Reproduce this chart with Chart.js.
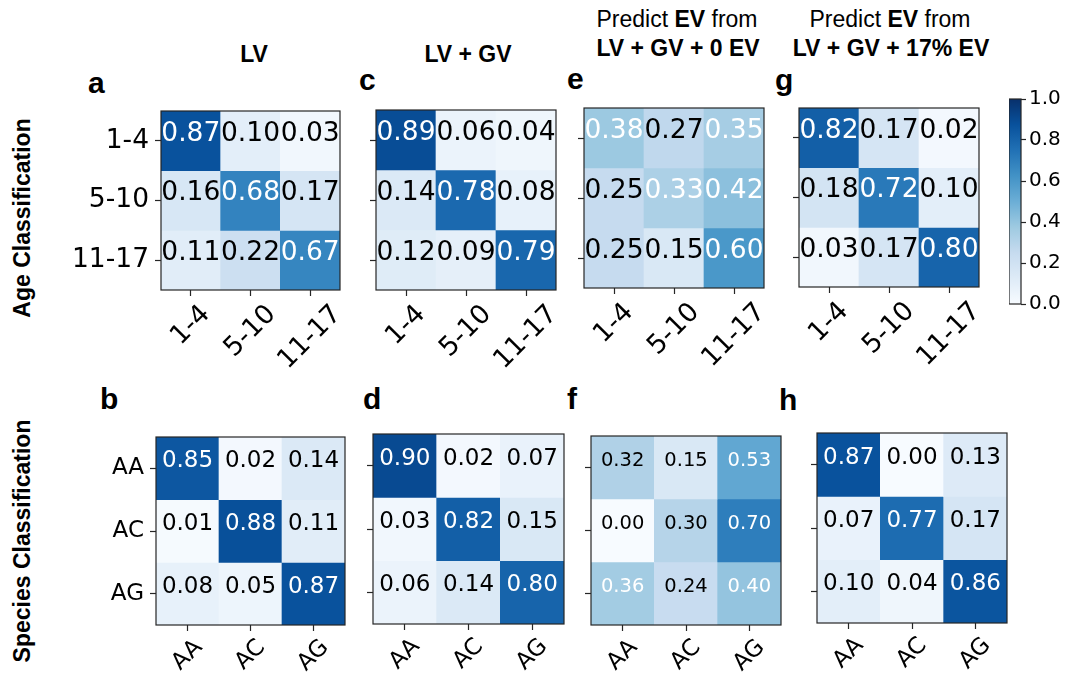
<!DOCTYPE html>
<html>
<head>
<meta charset="utf-8">
<script src="https://cdn.jsdelivr.net/npm/chart.js@4.4.1/dist/chart.umd.min.js"></script>
<style>
  body { margin: 0; background: #fff; width: 1066px; height: 675px; position: relative; overflow: hidden;
         font-family: 'Liberation Sans', Arial, Helvetica, sans-serif; color: #000; }
  canvas { position: absolute; }
  .title { position: absolute; font-size: 23px; line-height: 1; white-space: nowrap; transform: translateX(-50%); font-weight: bold; }
  .title .n { font-weight: normal; }
  .letter { position: absolute; font-size: 30px; line-height: 1; font-weight: bold; }
  .rowlab { position: absolute; font-size: 23px; line-height: 1; font-weight: bold; white-space: nowrap;
            transform: translate(-50%, -50%) rotate(-90deg); }
</style>
</head>
<body>

<div class="title" style="left:254px; top:43px;">LV</div>
<div class="title" style="left:468px; top:43px;">LV + GV</div>
<div class="title" style="left:677px; top:8px;"><span class="n">Predict </span>EV<span class="n"> from</span></div>
<div class="title" style="left:678px; top:37px;">LV + GV + 0 EV</div>
<div class="title" style="left:890px; top:8px;"><span class="n">Predict </span>EV<span class="n"> from</span></div>
<div class="title" style="left:891px; top:37px;">LV + GV + 17% EV</div>

<div class="letter" style="left:88px; top:68px;">a</div>
<div class="letter" style="left:359px; top:65px;">c</div>
<div class="letter" style="left:567px; top:64px;">e</div>
<div class="letter" style="left:775px; top:65px;">g</div>
<div class="letter" style="left:100px; top:384px;">b</div>
<div class="letter" style="left:363px; top:384px;">d</div>
<div class="letter" style="left:567px; top:384px;">f</div>
<div class="letter" style="left:779px; top:385px;">h</div>

<div class="rowlab" style="left:22px; top:218px;">Age Classification</div>
<div class="rowlab" style="left:22px; top:541px;">Species Classification</div>

<script>
// --- data ---
const ageLabels = ['1-4', '5-10', '11-17'];
const speciesLabels = ['AA', 'AC', 'AG'];

// rows = true class, columns = predicted class
const ageLV      = [[0.87, 0.10, 0.03], [0.16, 0.68, 0.17], [0.11, 0.22, 0.67]];
const ageLVGV    = [[0.89, 0.06, 0.04], [0.14, 0.78, 0.08], [0.12, 0.09, 0.79]];
const ageEV0     = [[0.38, 0.27, 0.35], [0.25, 0.33, 0.42], [0.25, 0.15, 0.60]];
const ageEV17    = [[0.82, 0.17, 0.02], [0.18, 0.72, 0.10], [0.03, 0.17, 0.80]];
const speciesLV   = [[0.85, 0.02, 0.14], [0.01, 0.88, 0.11], [0.08, 0.05, 0.87]];
const speciesLVGV = [[0.90, 0.02, 0.07], [0.03, 0.82, 0.15], [0.06, 0.14, 0.80]];
const speciesEV0  = [[0.32, 0.15, 0.53], [0.00, 0.30, 0.70], [0.36, 0.24, 0.40]];
const speciesEV17 = [[0.87, 0.00, 0.13], [0.07, 0.77, 0.17], [0.10, 0.04, 0.86]];

const colorbarTicks = [0, 0.2, 0.4, 0.6, 0.8, 1.0];

// --- matplotlib "Blues" ---
const BLUES = ['#f7fbff', '#deebf7', '#c6dbef', '#9ecae1', '#6baed6', '#4292c6', '#2171b5', '#08519c', '#08306b'];
function hexRgb(h) { return [1, 3, 5].map(i => parseInt(h.substr(i, 2), 16)); }
function blues(v) {
    const t = Math.max(0, Math.min(1, v)) * (BLUES.length - 1);
    const i = Math.min(Math.floor(t), BLUES.length - 2);
    const f = t - i;
    const a = hexRgb(BLUES[i]), b = hexRgb(BLUES[i + 1]);
    const c = a.map((x, k) => Math.round(x + (b[k] - x) * f));
    return 'rgb(' + c.join(',') + ')';
}

const FONT = 'DejaVu Sans';
const INK = '#000';

// frame round the plot area (matplotlib spines)
const framePlugin = {
    id: 'frame',
    afterDatasetsDraw(chart) {
        const a = chart.chartArea, ctx = chart.ctx;
        ctx.save();
        ctx.strokeStyle = '#262626';
        ctx.lineWidth = 1.2;
        ctx.strokeRect(a.left, a.top, a.right - a.left, a.bottom - a.top);
        ctx.restore();
    }
};

// numbers in the cells (sit a little above the cell centre, as in the original)
const cellTextPlugin = {
    id: 'cellText',
    afterDatasetsDraw(chart) {
        const ds = chart.data.datasets;
        if (!ds[0] || !ds[0].values) return;
        const ctx = chart.ctx;
        const size = chart.options.cellFontSize;
        const vmax = Math.max(...ds.flatMap(d => d.values));
        ctx.save();
        ctx.font = size + 'px "' + FONT + '"';
        ctx.textAlign = 'center';
        ctx.textBaseline = 'middle';
        ds.forEach((d, r) => {
            chart.getDatasetMeta(r).data.forEach((bar, c) => {
                const p = bar.getProps(['x', 'y', 'base'], true);
                const v = d.values[c];
                ctx.fillStyle = v > vmax / 2 ? '#fff' : INK;
                ctx.fillText(v.toFixed(2), p.x, (p.y + p.base) / 2 - 7);
            });
        });
        ctx.restore();
    }
};

// matplotlib style rotated x labels: centred under the tick
const centerTickPlugin = {
    id: 'centerTicks',
    beforeDraw(chart) {
        const sc = chart.scales.x;
        if (!sc || !sc.options.display) return;
        const items = sc.getLabelItems(chart.chartArea);
        const ctx = chart.ctx;
        const tl = sc.options.grid.tickLength, pad = sc.options.ticks.padding;
        items.forEach((it, i) => {
            ctx.save();
            ctx.font = it.font.string;
            const w = ctx.measureText(it.label).width;
            ctx.restore();
            const h = it.font.size * 1.1;
            const d = (w + h) * Math.SQRT1_2 / 2;
            it.options.translation = [sc.getPixelForTick(i), sc.top + tl + pad + d];
            it.options.textAlign = 'center';
            it.options.textBaseline = 'middle';
            it.textOffset = 0;
        });
    }
};

function noPad(s) { s.paddingLeft = 0; s.paddingRight = 0; s.paddingTop = 0; s.paddingBottom = 0; }

function heatmap(box, matrix, labels, o) {
    const [L, T, R, B] = box;
    const padL = 110, padT = 4, padR = 4, padB = 95;
    const cv = document.createElement('canvas');
    cv.width = (R - L) + padL + padR;
    cv.height = (B - T) + padT + padB;
    cv.style.left = (L - padL) + 'px';
    cv.style.top = (T - padT) + 'px';
    document.body.appendChild(cv);

    const datasets = matrix.map(row => ({
        data: row.map(() => 1),
        values: row,
        backgroundColor: row.map(blues),
        borderWidth: 0,
        barPercentage: 1,
        categoryPercentage: 1
    }));

    new Chart(cv, {
        type: 'bar',
        data: { labels: labels, datasets: datasets },
        plugins: [framePlugin, cellTextPlugin, centerTickPlugin],
        options: {
            responsive: false,
            animation: false,
            cellFontSize: o.cell,
            layout: { padding: { left: 0, top: padT, right: padR, bottom: 0 } },
            plugins: { legend: { display: false }, tooltip: { enabled: false } },
            scales: {
                x: {
                    stacked: true,
                    grid: { offset: false, drawOnChartArea: false, tickLength: 6, tickColor: '#262626', tickWidth: 1.2 },
                    border: { display: false },
                    ticks: { minRotation: 45, maxRotation: 45, padding: 4, color: INK,
                             font: { family: FONT, size: o.tick } },
                    afterFit: s => { s.height = padB; noPad(s); }
                },
                y: {
                    stacked: true,
                    min: 0, max: labels.length,
                    reverse: true,
                    afterBuildTicks: s => { s.ticks = labels.map((_, i) => ({ value: i + 0.5 })); },
                    grid: { drawOnChartArea: false, tickLength: 6, tickColor: '#262626', tickWidth: 1.2 },
                    border: { display: false },
                    ticks: { padding: 6, color: INK, font: { family: FONT, size: o.tick },
                             callback: (v, i) => o.yLabels ? labels[i] : '' },
                    afterFit: s => { s.width = padL; noPad(s); }
                }
            }
        }
    });
}

// row 1: age
heatmap([161, 111, 340, 290], ageLV,   ageLabels, { cell: 26.5, tick: 26.5, yLabels: true });
heatmap([376, 110, 556, 290], ageLVGV, ageLabels, { cell: 26.5, tick: 26.5, yLabels: false });
heatmap([584, 108, 764, 288], ageEV0,  ageLabels, { cell: 26.5, tick: 26.5, yLabels: false });
heatmap([799, 108, 979, 287], ageEV17, ageLabels, { cell: 26.5, tick: 26.5, yLabels: false });
// row 2: species
heatmap([156, 437, 345, 625], speciesLV,   speciesLabels, { cell: 23, tick: 23, yLabels: true });
heatmap([373, 434, 564, 624], speciesLVGV, speciesLabels, { cell: 23, tick: 23, yLabels: false });
heatmap([591, 436, 781, 625], speciesEV0,  speciesLabels, { cell: 19.5, tick: 23, yLabels: false });
heatmap([817, 433, 1007, 623], speciesEV17, speciesLabels, { cell: 23, tick: 23, yLabels: false });

// colour bar
(function () {
    const L = 1009, T = 98, R = 1021, B = 305;
    const axisW = 45, pad = 14;
    const cv = document.createElement('canvas');
    cv.width = (R - L) + axisW;
    cv.height = (B - T) + pad * 2;
    cv.style.left = L + 'px';
    cv.style.top = (T - pad) + 'px';
    document.body.appendChild(cv);

    new Chart(cv, {
        type: 'bar',
        data: {
            labels: [''],
            datasets: [{
                data: [[colorbarTicks[0], colorbarTicks[colorbarTicks.length - 1]]],
                backgroundColor: c => {
                    const a = c.chart.chartArea;
                    if (!a) return BLUES[4];
                    const g = c.chart.ctx.createLinearGradient(0, a.bottom, 0, a.top);
                    BLUES.forEach((col, i) => g.addColorStop(i / (BLUES.length - 1), col));
                    return g;
                },
                borderWidth: 0,
                barPercentage: 1,
                categoryPercentage: 1
            }]
        },
        plugins: [framePlugin],
        options: {
            responsive: false,
            animation: false,
            layout: { padding: { left: 0, top: pad, right: 0, bottom: pad } },
            plugins: { legend: { display: false }, tooltip: { enabled: false } },
            scales: {
                x: { display: false },
                y: {
                    position: 'right',
                    min: 0, max: 1,
                    afterBuildTicks: s => { s.ticks = colorbarTicks.map(v => ({ value: v })); },
                    grid: { drawOnChartArea: false, tickLength: 5, tickColor: '#262626', tickWidth: 1.2 },
                    border: { display: false },
                    ticks: { padding: 3, color: INK, font: { family: FONT, size: 20 },
                             callback: v => v.toFixed(1) },
                    afterFit: s => { s.width = axisW; }
                }
            }
        }
    });
})();
</script>
</body>
</html>
